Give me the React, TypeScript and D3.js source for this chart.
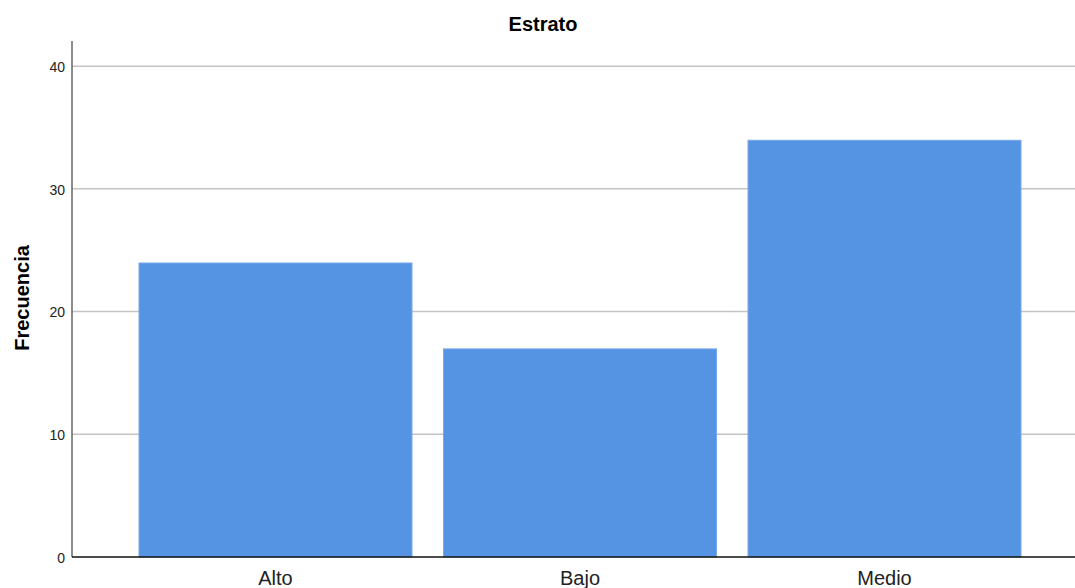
import React from "react";
import * as d3 from "d3";

const categories = ["Alto", "Bajo", "Medio"];
const values = [24, 17, 34];
const yTicks = [0, 10, 20, 30, 40];

const W = 1075;
const H = 588;
const left = 72;
const right = 1075;
const top = 41;
const bottom = 557;

export default function App() {
  const x = d3.scaleBand<string>().domain(categories).range([139, 1021]).paddingInner(0.1034).paddingOuter(0);
  const y = d3.scaleLinear().domain([0, 42.05]).range([bottom, top]);
  const font = "'Liberation Sans', Arial, sans-serif";
  return (
    <svg width={W} height={H} style={{ position: "absolute", left: 0, top: 0, background: "#fff" }}>
      <text x={543} y={31} textAnchor="middle" fontFamily={font} fontWeight="bold" fontSize={20}>Estrato</text>
      {yTicks.filter(t => t > 0).map(t => (
        <line key={t} x1={left} x2={right} y1={y(t)} y2={y(t)} stroke="#c4c4c4" strokeWidth={1.5} />
      ))}
      {categories.map((c, i) => (
        <rect key={c} x={x(c)} y={y(values[i]) + 0.5} width={x.bandwidth()} height={bottom - y(values[i]) - 0.5}
          fill="#5594e3" stroke="#7aa9ea" strokeWidth={1} />
      ))}
      <line x1={left} x2={left} y1={top} y2={bottom} stroke="#666" strokeWidth={1.5} />
      <line x1={left} x2={right} y1={bottom} y2={bottom} stroke="#111" strokeWidth={1.5} />
      {yTicks.map(t => (
        <text key={t} x={65} y={y(t) + 1} dy="0.35em" textAnchor="end" fontFamily={font} fontSize={14} fill="#222">{t}</text>
      ))}
      {categories.map(c => (
        <text key={c} x={(x(c) as number) + x.bandwidth() / 2} y={585} textAnchor="middle" fontFamily={font} fontSize={20} fill="#222">{c}</text>
      ))}
      <text transform={`translate(29,298) rotate(-90)`} textAnchor="middle" fontFamily={font} fontWeight="bold" fontSize={20}>Frecuencia</text>
    </svg>
  );
}
